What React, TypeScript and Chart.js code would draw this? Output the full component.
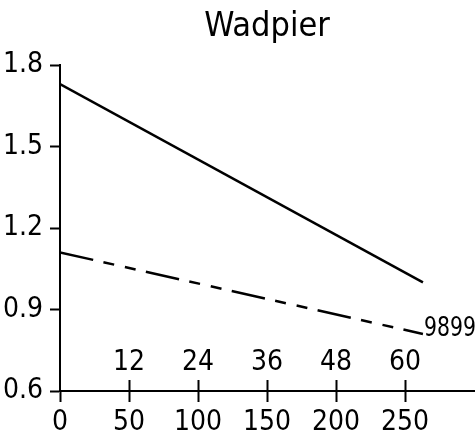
import React, { useEffect, useRef } from "react";
import { Chart, registerables } from "chart.js";

Chart.register(...registerables);

const chartTitle = "Wadpier";
const xValues = [0, 263];
const solidValues = [1.73, 1.0];
const dashedValues = [1.11, 0.81];
const dashedEndLabel = "9899";
const xTickValues = [0, 50, 100, 150, 200, 250];
const topTickValues = [50, 100, 150, 200, 250];
const topTickLabels = ["12", "24", "36", "48", "60"];
const yTickValues = [0.6, 0.9, 1.2, 1.5, 1.8];

const FONT = "'DejaVu Sans Condensed', 'Liberation Sans', sans-serif";
const TITLE_FONT = "'DejaVu Sans Condensed', 'Liberation Sans', sans-serif";

const endLabelPlugin = {
  id: "endLabel",
  afterDatasetsDraw(chart: any) {
    const meta = chart.getDatasetMeta(1);
    const pt = meta.data[meta.data.length - 1];
    if (!pt) return;
    const ctx = chart.ctx;
    ctx.save();
    ctx.font = `27px ${FONT}`;
    ctx.fillStyle = "#000";
    ctx.textAlign = "left";
    ctx.textBaseline = "alphabetic";
    ctx.translate(pt.x + 1, pt.y + 2);
    ctx.scale(0.84, 1);
    ctx.fillText(dashedEndLabel, 0, 0);
    ctx.restore();
  },
};

export default function App() {
  const ref = useRef<HTMLCanvasElement>(null);
  useEffect(() => {
    if (!ref.current) return;
    const toPts = (vals: number[]) => vals.map((v, i) => ({ x: xValues[i], y: v }));
    const chart = new Chart(ref.current, {
      type: "line",
      data: {
        datasets: [
          {
            data: toPts(solidValues),
            borderColor: "#000",
            borderWidth: 2.5,
            pointRadius: 0,
            fill: false,
          },
          {
            data: toPts(dashedValues),
            borderColor: "#000",
            borderWidth: 2.5,
            borderDash: [34, 10.5, 11, 11, 11, 10.5],
            pointRadius: 0,
            fill: false,
          },
        ],
      },
      options: {
        animation: false,
        responsive: false,
        devicePixelRatio: 1,
        layout: { padding: { left: 0, right: 1, top: 0, bottom: 0 } },
        plugins: {
          legend: { display: false },
          tooltip: { enabled: false },
          title: {
            display: true,
            text: chartTitle,
            fullSize: false,
            color: "#000",
            font: { family: TITLE_FONT, size: 34, weight: "normal", lineHeight: 1.2 },
            padding: { top: 7, bottom: 17.2 },
          },
        },
        scales: {
          x: {
            type: "linear",
            position: "bottom",
            min: 0,
            max: 300,
            afterBuildTicks: (s: any) => {
              s.ticks = xTickValues.map((v) => ({ value: v }));
            },
            afterFit: (s: any) => {
              s.height = 46;
            },
            grid: {
              drawOnChartArea: false,
              drawTicks: true,
              tickLength: 11,
              tickWidth: 2,
              tickColor: "#000",
            },
            border: { display: true, color: "#000", width: 2 },
            ticks: {
              color: "#000",
              font: { family: FONT, size: 28, lineHeight: 1.2 },
              padding: 4,
              maxRotation: 0,
              autoSkip: false,
              callback: (v: any) => String(v),
            },
          },
          x2: {
            type: "linear",
            axis: "x",
            position: { y: 0.6 },
            min: 0,
            max: 300,
            afterBuildTicks: (s: any) => {
              s.ticks = topTickValues.map((v) => ({ value: v }));
            },
            grid: {
              drawOnChartArea: false,
              drawTicks: true,
              tickLength: -11,
              tickWidth: 2,
              tickColor: "#000",
            },
            border: { display: false },
            ticks: {
              color: "#000",
              font: { family: FONT, size: 28, lineHeight: 1.2 },
              padding: -34,
              maxRotation: 0,
              autoSkip: false,
              callback: (_v: any, i: number) => topTickLabels[i],
            },
          },
          y: {
            type: "linear",
            min: 0.6,
            max: 1.8,
            afterBuildTicks: (s: any) => {
              s.ticks = yTickValues.map((v) => ({ value: v }));
            },
            afterFit: (s: any) => {
              s.width = 60;
            },
            grid: {
              drawOnChartArea: false,
              drawTicks: true,
              tickLength: 10,
              tickWidth: 2,
              tickColor: "#000",
            },
            border: { display: true, color: "#000", width: 2 },
            ticks: {
              color: "#000",
              font: { family: FONT, size: 28, lineHeight: 1.2 },
              padding: 7,
              autoSkip: false,
              callback: (v: any) => Number(v).toFixed(1),
            },
          },
        },
      },
      plugins: [endLabelPlugin],
    } as any);
    return () => chart.destroy();
  }, []);
  return (
    <div style={{ position: "absolute", left: 0, top: 0, width: 475, height: 437 }}>
      <canvas ref={ref} width={475} height={437} />
    </div>
  );
}
